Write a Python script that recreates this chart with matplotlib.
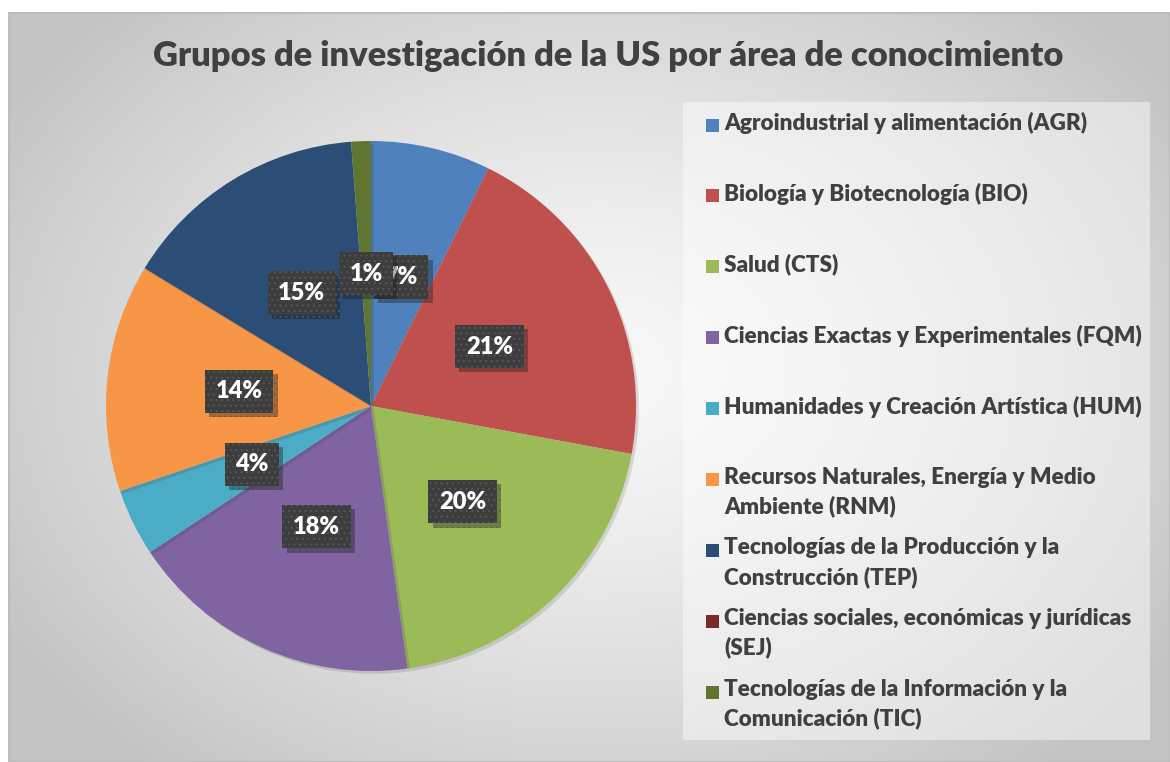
import matplotlib
matplotlib.use('Agg')

import matplotlib.pyplot as plt
import matplotlib.patheffects as pe
from matplotlib.patches import Rectangle
import numpy as np

plt.rcParams['font.family'] = ['Lato', 'DejaVu Sans']
plt.rcParams['hatch.linewidth'] = 0.6

title = 'Grupos de investigación de la US por área de conocimiento'
areas = ['Agroindustrial y alimentación (AGR)',
         'Biología y Biotecnología (BIO)',
         'Salud (CTS)',
         'Ciencias Exactas y Experimentales (FQM)',
         'Humanidades y Creación Artística (HUM)',
         'Recursos Naturales, Energía y Medio\nAmbiente (RNM)',
         'Tecnologías de la Producción y la\nConstrucción (TEP)',
         'Ciencias sociales, económicas y jurídicas\n(SEJ)',
         'Tecnologías de la Información y la\nComunicación (TIC)']
shares = [7.3, 20.6, 19.9, 17.9, 4.1, 13.9, 15.1, 0.0, 1.2]
colors = ['#4f81bd', '#c0504d', '#9bbb59', '#8064a2', '#4bacc6',
          '#f79646', '#2c4d75', '#772c2a', '#5f7530']

W, H = 1170, 762
fig = plt.figure(figsize=(W / 100, H / 100), dpi=100)
fig.patch.set_facecolor('white')

# chart area background (radial gradient like the Office style)
bg = fig.add_axes([8 / W, 0, 1 - 8 / W, (H - 12) / H])
bg.set_axis_off()
yy, xx = np.mgrid[0:750, 0:1162]
d = np.hypot((xx - 590) / 700.0, (yy - 360) / 520.0)
d = np.clip(d, 0, 1)
shade = 0.975 - 0.21 * d ** 1.3
bg.imshow(np.dstack([shade, shade, shade]), aspect='auto', interpolation='bilinear')
bg.add_patch(Rectangle((0, 0), 1161, 749, fill=False, edgecolor='#bdbdbd', lw=1.5))

fig.text(608 / W, 1 - 56 / H, title, ha='center', va='center',
         fontsize=24.8, fontweight='heavy', color='#404040')

# pie
R = 265
cx, cy = 371, 406
ax = fig.add_axes([(cx - R) / W, (H - cy - R) / H, 2 * R / W, 2 * R / H])


def pct(p):
    return '' if p < 0.5 else '%.0f%%' % p


wedges, texts, autotexts = ax.pie(shares, colors=colors, startangle=90, counterclock=False,
                                  radius=1, autopct=pct, pctdistance=0.5,
                                  wedgeprops=dict(linewidth=0),
                                  textprops=dict(color='white', fontsize=17, fontweight='heavy'))
ax.set_xlim(-1, 1)
ax.set_ylim(-1, 1)
ax.set_axis_off()
for w in wedges:
    w.set_path_effects([pe.SimplePatchShadow(offset=(2, -2), alpha=0.15), pe.Normal()])
for t in autotexts:
    t.set_bbox(dict(boxstyle='square,pad=0.45', facecolor='#3d3d3d', edgecolor='#5a5a5a',
                    linewidth=0, hatch='...'))
    t.get_bbox_patch().set_path_effects([pe.SimplePatchShadow(offset=(3, -3), alpha=0.35),
                                         pe.Normal()])

# legend panel
leg = fig.add_axes([683 / W, (H - 740) / H, (1150 - 683) / W, (740 - 102) / H])
leg.set_xlim(683, 1150)
leg.set_ylim(740, 102)
leg.set_axis_off()
leg.add_patch(Rectangle((683, 102), 467, 638, facecolor='white', alpha=0.45, lw=0))
row_top, row_step = 125, 70.9
for i, (name, c) in enumerate(zip(areas, colors)):
    y = row_top + i * row_step
    leg.add_patch(Rectangle((706, y - 6.5), 13, 13, facecolor=c, lw=0))
    leg.text(724, y - 13, name, ha='left', va='top', fontsize=16.2, fontweight='heavy',
             color='#404040', linespacing=1.42)

fig.savefig('out.png', dpi=100)
